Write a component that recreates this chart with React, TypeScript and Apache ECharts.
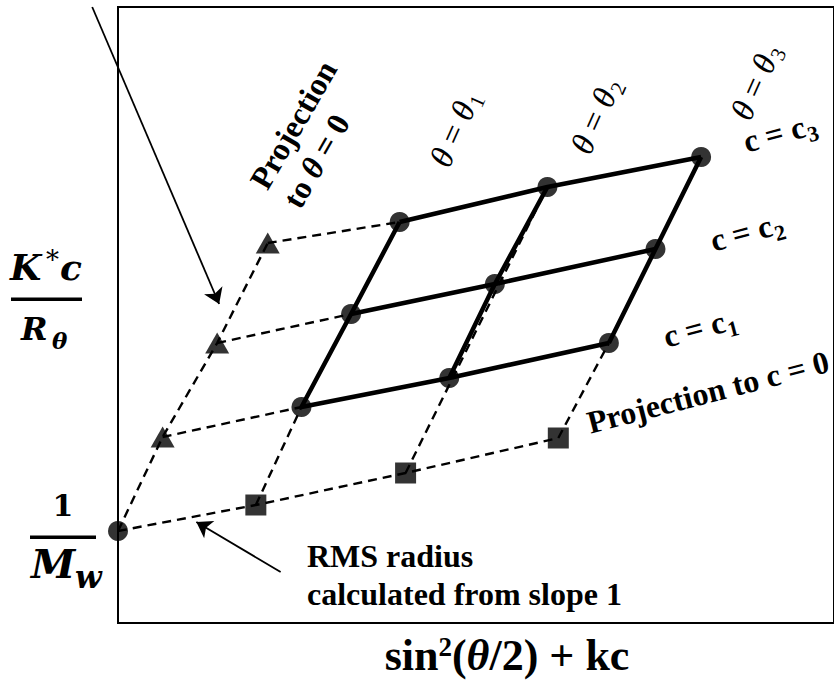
import React, { useEffect, useRef } from "react";
import * as echarts from "echarts";

// Zimm plot: K*c/Rθ against sin²(θ/2) + kc (arbitrary units)
const originPoint = [0, 92]; // double extrapolation, intercept 1/Mw
const thetaZeroPoints = [
  [45, 186],
  [100, 280],
  [151, 380],
]; // θ → 0 extrapolation for c1, c2, c3
const concZeroPoints = [
  [139, 118],
  [290, 150],
  [444, 185],
]; // c → 0 extrapolation for θ1, θ2, θ3
const c1Points = [
  [185, 216],
  [334, 245],
  [495, 280],
];
const c2Points = [
  [235, 309],
  [380, 339],
  [542, 374],
];
const c3Points = [
  [284, 401],
  [433, 436],
  [588, 466],
];
const concIndices = ["1", "2", "3"];
const thetaIndices = ["1", "2", "3"];
const pointerArrows = [
  [
    [-26, 616],
    [102, 319],
  ],
  [
    [164, 51],
    [79, 101],
  ],
];

const X_MAX = 722;
const Y_MAX = 616;

const SERIF = '"Liberation Serif", "Times New Roman", serif';
const MATH = '"DejaVu Serif", serif';
const INK = "#000";

let measureCtx: CanvasRenderingContext2D | null = null;
function textWidth(text: string, font: string) {
  if (!measureCtx) measureCtx = document.createElement("canvas").getContext("2d");
  if (!measureCtx) return text.length * 14;
  measureCtx.font = font;
  return measureCtx.measureText(text).width;
}

function solidLine(data: number[][]) {
  return {
    type: "line",
    data,
    symbol: "none",
    clip: false,
    silent: true,
    z: 3,
    lineStyle: { color: INK, width: 4.5 },
  };
}

function dashedLine(data: number[][]) {
  return {
    type: "line",
    data,
    symbol: "none",
    clip: false,
    silent: true,
    z: 2,
    lineStyle: { color: INK, width: 2.4, type: [9, 6] },
  };
}

function markers(data: number[][], symbol: string, size: number | number[]) {
  return {
    type: "scatter",
    data,
    symbol,
    symbolSize: size,
    clip: false,
    silent: true,
    z: 5,
    itemStyle: { color: INK },
  };
}

function plainText(
  x: number,
  y: number,
  text: string,
  size: number,
  opts: { family?: string; weight?: string; italic?: boolean; align?: string } = {}
) {
  const align = opts.align || "left";
  return {
    type: "text",
    x,
    y,
    z: 20,
    style: {
      text,
      fill: INK,
      fontSize: size,
      fontFamily: opts.family || SERIF,
      fontWeight: opts.weight || "bold",
      fontStyle: opts.italic ? "italic" : "normal",
      align,
      textAlign: align,
      verticalAlign: "middle",
      textVerticalAlign: "middle",
    },
  };
}

function richText(
  x: number,
  y: number,
  rotation: number,
  text: string,
  rich: Record<string, any>,
  align = "center"
) {
  return {
    type: "text",
    x,
    y,
    rotation,
    z: 20,
    style: {
      text,
      rich,
      fill: INK,
      align,
      textAlign: align,
      verticalAlign: "middle",
      textVerticalAlign: "middle",
    },
  };
}

// a rotated "main + subscript" label, centred on (x, y)
function subscriptLabel(
  x: number,
  y: number,
  rotation: number,
  mainText: string,
  rich: Record<string, any>,
  mainWidth: number,
  sub: string,
  subSize: number,
  subWeight: string
) {
  const subWidth = textWidth(sub, `${subWeight} ${subSize}px ${SERIF}`);
  const left = -(mainWidth + subWidth + 1) / 2;
  return {
    type: "group",
    x,
    y,
    rotation,
    z: 20,
    children: [
      {
        type: "text",
        x: left,
        y: 0,
        z: 20,
        style: { text: mainText, rich, fill: INK, align: "left", verticalAlign: "middle" },
      },
      {
        type: "text",
        x: left + mainWidth + 1,
        y: 9,
        z: 20,
        style: {
          text: sub,
          fill: INK,
          fontFamily: SERIF,
          fontSize: subSize,
          fontWeight: subWeight,
          align: "left",
          verticalAlign: "middle",
        },
      },
    ],
  };
}

const thetaRich = {
  t: { fontFamily: SERIF, fontStyle: "italic", fontSize: 33, fill: INK },
  e: { fontFamily: SERIF, fontSize: 33, fill: INK },
};

const concRich = {
  b: { fontFamily: SERIF, fontWeight: "bold", fontSize: 32, fill: INK },
};

const boldRich = {
  b: { fontFamily: SERIF, fontWeight: "bold", fontSize: 32, verticalAlign: "middle", fill: INK },
  i: { fontFamily: SERIF, fontWeight: "bold", fontStyle: "italic", fontSize: 32, verticalAlign: "middle", fill: INK },
};

const xTitleRich = {
  b: { fontFamily: SERIF, fontWeight: "bold", fontSize: 44, verticalAlign: "middle", fill: INK },
  i: { fontFamily: SERIF, fontWeight: "bold", fontStyle: "italic", fontSize: 44, verticalAlign: "middle", fill: INK },
  p: { fontFamily: SERIF, fontWeight: "bold", fontSize: 27, verticalAlign: "top", fill: INK },
};

const thetaLabelPos = [
  [455, 129],
  [596, 116],
  [756, 82],
];
const concLabelPos = [
  [700, 328],
  [747, 232],
  [780, 133],
];

export default function App() {
  const ref = useRef<HTMLDivElement>(null);

  useEffect(() => {
    if (!ref.current) return;
    const chart = echarts.init(ref.current, undefined, { renderer: "svg" });

    const rows = [c1Points, c2Points, c3Points];
    const columns = [0, 1, 2].map((j) => rows.map((r) => r[j]));

    const series: any[] = [];
    // extrapolation to θ = 0 and to c = 0
    series.push(dashedLine([originPoint, ...thetaZeroPoints]));
    series.push(dashedLine([originPoint, ...concZeroPoints]));
    rows.forEach((r, i) => series.push(dashedLine([thetaZeroPoints[i], r[0]])));
    columns.forEach((col, j) =>
      series.push(dashedLine([concZeroPoints[j], j === 1 ? col[2] : col[0]]))
    );
    // measured grid: constant c and constant θ
    rows.forEach((r) => series.push(solidLine(r)));
    columns.forEach((col) => series.push(solidLine(col)));
    // symbols
    series.push(markers([...c1Points, ...c2Points, ...c3Points, originPoint], "circle", 20));
    series.push(markers(thetaZeroPoints, "triangle", [24, 21]));
    series.push(markers(concZeroPoints, "rect", 21));
    // pointer arrows
    series.push({
      type: "lines",
      coordinateSystem: "cartesian2d",
      clip: false,
      silent: true,
      z: 6,
      symbol: ["none", "arrow"],
      symbolSize: 15,
      lineStyle: { color: INK, width: 1.8, opacity: 1, curveness: 0 },
      data: pointerArrows.map((c) => ({ coords: c })),
    });

    const graphics: any[] = [
      // y-axis title K*c / Rθ
      plainText(10, 267, "K", 36, { family: MATH, italic: true, align: "left" }),
      plainText(46, 260, "*", 26, { family: MATH, weight: "normal", align: "left" }),
      plainText(60, 267, "c", 36, { family: MATH, italic: true, align: "left" }),
      { type: "rect", z: 20, shape: { x: 11, y: 297.5, width: 71, height: 3.5 }, style: { fill: INK } },
      plainText(21, 329, "R", 32, { family: MATH, italic: true, align: "left" }),
      plainText(52, 340, "θ", 23, { family: MATH, italic: true, align: "left" }),
      // intercept label 1 / Mw
      plainText(63, 505, "1", 30, { family: MATH, align: "center" }),
      { type: "rect", z: 20, shape: { x: 30, y: 535.5, width: 66, height: 3.5 }, style: { fill: INK } },
      plainText(31, 563, "M", 40, { family: MATH, italic: true, align: "left" }),
      plainText(75, 577, "w", 31, { family: MATH, italic: true, align: "left" }),
      // x-axis title
      richText(507, 655, 0, "{b|sin}{p|2}{b|(}{i|θ}{b|/2) + kc}", xTitleRich),
      // annotation for the slope of the c = 0 line
      plainText(307, 556, "RMS radius", 32),
      plainText(307, 594, "calculated from slope 1", 32),
      // projections
      richText(708, 392, 0.253, "{b|Projection to c = 0}", boldRich),
      richText(258, 186, 1.05, "{b|Projection}", boldRich, "left"),
      richText(291, 205, 1.05, "{b|to }{i|θ}{b| = 0}", boldRich, "left"),
    ];

    const thetaMainWidth =
      2 * textWidth("θ", `italic normal 33px ${SERIF}`) + textWidth(" = ", `normal normal 33px ${SERIF}`);
    thetaIndices.forEach((n, j) => {
      const [x, y] = thetaLabelPos[j];
      graphics.push(
        subscriptLabel(x, y, 1.15, "{t|θ}{e| = }{t|θ}", thetaRich, thetaMainWidth, n, 21, "normal")
      );
    });
    const concMainWidth = textWidth("c = c", `normal bold 32px ${SERIF}`);
    concIndices.forEach((n, i) => {
      const [x, y] = concLabelPos[i];
      graphics.push(subscriptLabel(x, y, 0.26, "{b|c = c}", concRich, concMainWidth, n, 22, "bold"));
    });

    chart.setOption({
      animation: false,
      backgroundColor: "#fff",
      grid: {
        left: 118,
        top: 7,
        right: -6,
        bottom: 59,
        show: true,
        borderColor: INK,
        borderWidth: 2,
        backgroundColor: "transparent",
      },
      xAxis: {
        type: "value",
        min: 0,
        max: X_MAX,
        show: false,
      },
      yAxis: {
        type: "value",
        min: 0,
        max: Y_MAX,
        show: false,
      },
      series,
      graphic: { elements: graphics },
    });

    return () => chart.dispose();
  }, []);

  return (
    <div
      ref={ref}
      style={{ position: "fixed", left: 0, top: 0, width: 834, height: 682, background: "#fff" }}
    />
  );
}
